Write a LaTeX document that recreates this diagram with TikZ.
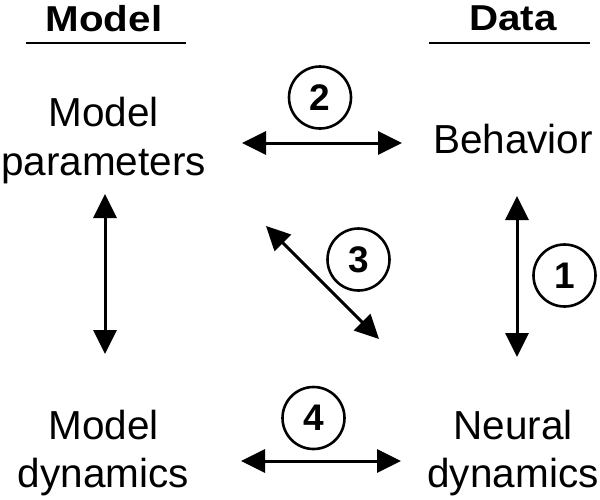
\documentclass[tikz,border=0pt]{standalone}
\usepackage{fontspec}
\setmainfont{Liberation Sans}
\usetikzlibrary{arrows.meta}
\begin{document}
\begin{tikzpicture}[x=1pt,y=-1pt,
  lbl/.style={font=\fontsize{40.5}{48.5}\selectfont, inner sep=0pt, align=center},
  ttl/.style={font=\fontsize{36}{40}\selectfont\bfseries, inner sep=0pt},
  num/.style={circle, draw, line width=2.6pt, minimum size=62pt, inner sep=0pt, font=\fontsize{37}{37}\selectfont\bfseries},
  dbl/.style={line width=3pt, {Triangle[length=24pt,width=23pt]}-{Triangle[length=24pt,width=23pt]}},
  rulestyle/.style={line width=2.5pt}]
\useasboundingbox (0,0) rectangle (600,499);
% titles
\node[ttl, anchor=base] (tmodel) at (104,31) {\scalebox{1.12}[1]{Model}};
\node[ttl, anchor=base] (tdata) at (513,30.5) {\scalebox{1.12}[1]{Data}};
\coordinate (uml) at (26,43); \coordinate (umr) at (186,43);
\coordinate (udl) at (429,43); \coordinate (udr) at (590,43);
\draw[rulestyle] (uml) -- (umr);
\draw[rulestyle] (udl) -- (udr);
% labels
\node[lbl, anchor=base] (mp) at (103.5,175) {Model\\parameters};
\node[lbl, anchor=base] (beh) at (513,153) {Behavior};
\node[lbl, anchor=base] (md) at (103.5,487.5) {Model\\dynamics};
\node[lbl, anchor=base] (nd) at (513,487.5) {Neural\\dynamics};
% numbered circles
\node[num] (c1) at (564.5,275.5) {1};
\node[num] (c2) at (320,97.5) {2};
\node[num] (c3) at (358.5,259.5) {3};
\node[num] (c4) at (313.5,418) {4};
% arrows
\coordinate (a2l) at (242,143); \coordinate (a2r) at (402,143);
\coordinate (a4l) at (241,461); \coordinate (a4r) at (401,461);
\coordinate (avlt) at (105,194); \coordinate (avlb) at (105,354);
\coordinate (avrt) at (517,196); \coordinate (avrb) at (517,357);
\coordinate (adt) at (266,226); \coordinate (adb) at (379,339);
\draw[dbl] (a2l) -- (a2r);
\draw[dbl] (a4l) -- (a4r);
\draw[dbl] (avlt) -- (avlb);
\draw[dbl] (avrt) -- (avrb);
\draw[dbl] (adt) -- (adb);
\end{tikzpicture}
\end{document}
